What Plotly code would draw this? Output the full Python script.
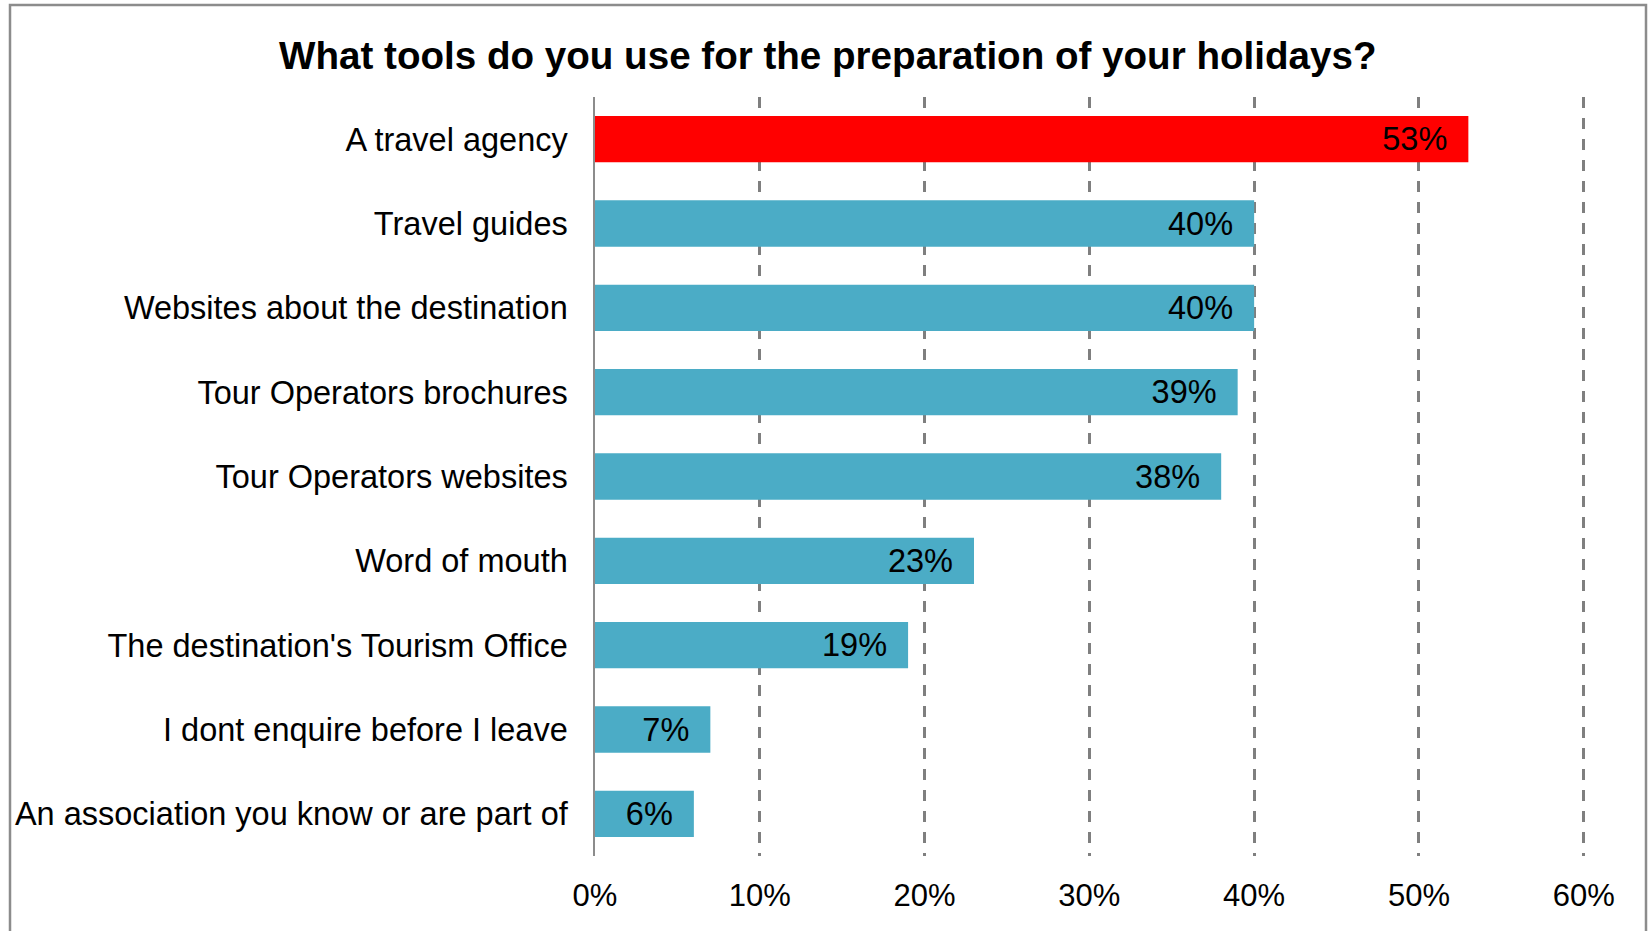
import plotly.graph_objects as go

# Survey answers, top to bottom
categories = [
    "A travel agency",
    "Travel guides",
    "Websites about the destination",
    "Tour Operators brochures",
    "Tour Operators websites",
    "Word of mouth",
    "The destination's Tourism Office",
    "I dont enquire before I leave",
    "An association you know or are part of",
]
shares = [53, 40, 40, 39, 38, 23, 19, 7, 6]
tick_values = [0, 10, 20, 30, 40, 50, 60]
tick_labels = ["0%", "10%", "20%", "30%", "40%", "50%", "60%"]

HIGHLIGHT = "#FF0000"
BASE = "#4BACC6"
bar_colors = [HIGHLIGHT] + [BASE] * (len(categories) - 1)

W, H = 1649, 931
X_MAX = 60
X_PAD = 0.2  # a little room past the last tick so its gridline is drawn
PX_PER_UNIT = 989 / X_MAX
M_L, M_T, M_B = 595, 97, 75
M_R = round(65 - X_PAD * PX_PER_UNIT)
FONT = "Liberation Sans, Arial, sans-serif"
NBSP = "\u00a0"

fig = go.Figure(
    go.Bar(
        x=shares,
        y=categories,
        orientation="h",
        marker=dict(color=bar_colors, line=dict(width=0)),
        text=[f"{v}%{NBSP * 2}" for v in shares],
        textposition="inside",
        insidetextanchor="end",
        textangle=0,
        constraintext="none",
        textfont=dict(family=FONT, size=32.5, color="#000000"),
        hoverinfo="skip",
    )
)

# frame drawn around the whole figure, expressed in paper units
pw = W - M_L - M_R
ph = H - M_T - M_B
def px_to_paper_x(px):
    return (px - M_L) / pw
def px_to_paper_y(py):
    return (H - M_B - py) / ph

fig.add_shape(
    type="rect",
    xref="paper", yref="paper",
    x0=px_to_paper_x(10), x1=px_to_paper_x(1646),
    y0=px_to_paper_y(960), y1=px_to_paper_y(5),
    line=dict(color="#8C8C8C", width=2.5),
    fillcolor="rgba(0,0,0,0)",
    layer="above",
)

fig.update_layout(
    width=W,
    height=H,
    margin=dict(l=M_L, r=M_R, t=M_T, b=M_B, pad=0),
    paper_bgcolor="white",
    plot_bgcolor="white",
    bargap=0.45,
    showlegend=False,
    title=dict(
        text="<b>What tools do you use for the preparation of your holidays?</b>",
        font=dict(family=FONT, size=38.6, color="#000000"),
        x=0.502, xref="container", xanchor="center",
        y=1 - 55 / H, yref="container", yanchor="middle",
    ),
    xaxis=dict(
        range=[0, X_MAX + X_PAD],
        tickvals=tick_values,
        ticktext=tick_labels,
        tickfont=dict(family=FONT, size=31, color="#000000"),
        showgrid=True,
        gridcolor="#7F7F7F",
        gridwidth=2.5,
        griddash="11px,10px",
        zeroline=False,
        showline=False,
        ticks="",
        ticklabelstandoff=18,
    ),
    yaxis=dict(
        autorange="reversed",
        tickfont=dict(family=FONT, size=32.5, color="#000000"),
        showgrid=False,
        zeroline=False,
        showline=True,
        linecolor="#8C8C8C",
        linewidth=1.5,
        ticks="",
        ticklabelstandoff=19,
    ),
)

fig.write_html("out.html")
